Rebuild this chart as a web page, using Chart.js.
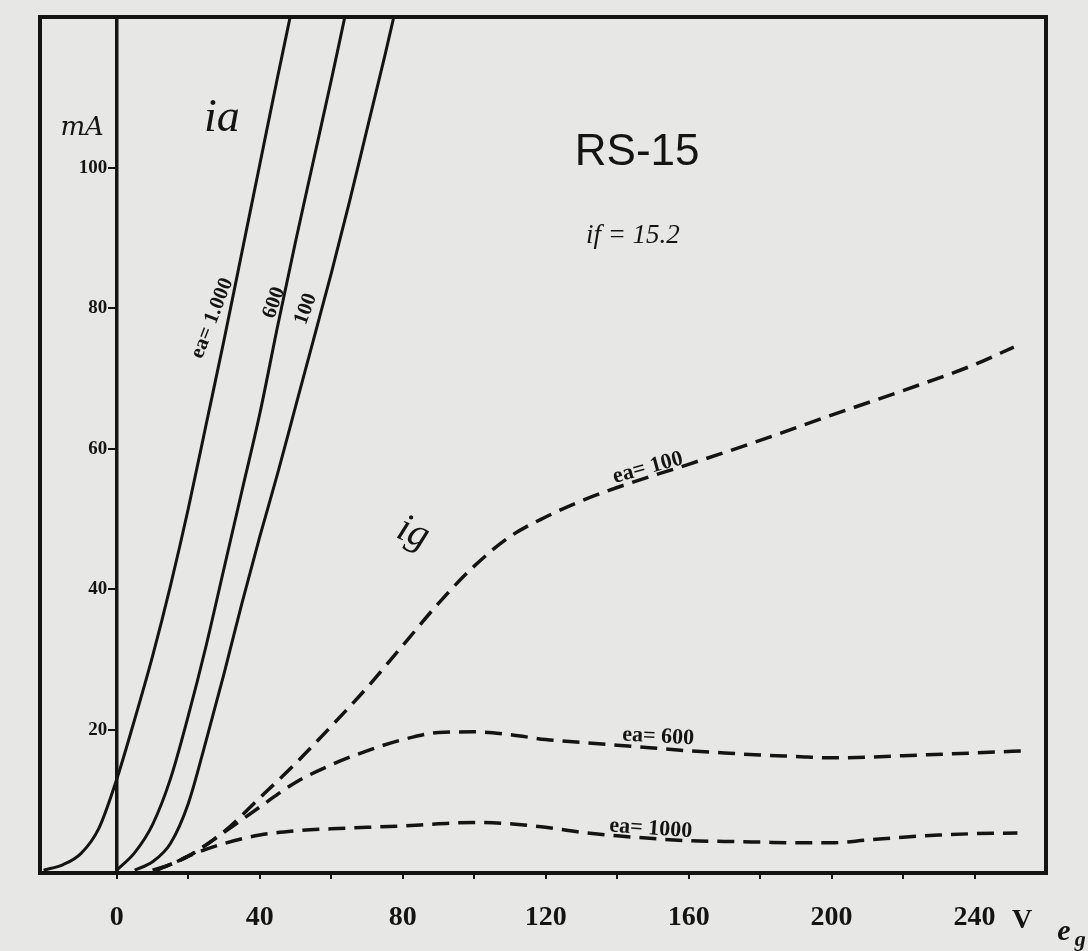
<!DOCTYPE html>
<html><head><meta charset="utf-8">
<script src="https://cdn.jsdelivr.net/npm/chart.js@4/dist/chart.umd.min.js"></script>
<style>
html,body{margin:0;padding:0;background:#e7e7e5;}
#wrap{width:1088px;height:951px;position:relative;overflow:hidden;}
canvas{display:block;}
</style></head><body><div id="wrap"><canvas id="c" width="1088" height="951"></canvas></div>
<script>
// ---- data (grid voltage eg in V, current in mA) ----
const iaEa1000Eg = [-20.5,-15,-10,-5,0,5,10,15,20,25,30,35,40,45,48.5];
const iaEa1000mA = [0,0.8,2.4,6,13,21.5,30.5,40.5,51.5,63.5,75.5,88,100.5,113,121.5];
const iaEa600Eg  = [0,5,10,15,20,25,30,35,40,45,50,55,60,63.8];
const iaEa600mA  = [0,2.5,6.5,13,22,32,43,54,65,77.5,89.5,101,112.5,121.5];
const iaEa100Eg  = [5,10,15,20,25,30,35,40,45,50,55,60,65,70,75,77.5];
const iaEa100mA  = [0,1.2,3.8,9.5,18.5,28,38,47.5,56.5,66,75.5,85,95,105.5,116,121.5];

const igEa100Eg  = [11,20,30,40,50,60,70,80,90,100,110,120,130,140,160,180,200,220,240,251];
const igEa100mA  = [0,2,5.5,10.3,15.2,20.5,26,32,38,43.3,47.5,50.3,52.6,54.5,57.8,61.2,64.8,68.3,72,74.5];
const igEa600Eg  = [11,20,30,40,50,60,70,80,90,100,110,120,130,140,150,160,170,180,190,200,210,220,240,254];
const igEa600mA  = [0,2,5.4,9,12.5,15,17,18.6,19.6,19.7,19.3,18.6,18.2,17.8,17.4,17,16.7,16.4,16.2,16,16.1,16.3,16.7,17];
const igEa1000Eg = [10,15,20,30,40,50,60,70,80,90,100,110,120,130,140,150,160,170,180,190,200,210,220,230,240,252];
const igEa1000mA = [0,0.8,2,3.8,5,5.6,5.9,6.1,6.3,6.6,6.8,6.6,6.1,5.4,4.9,4.5,4.2,4.1,4,3.9,3.9,4.3,4.7,5,5.2,5.3];

const xTicks = [0,20,40,60,80,100,120,140,160,180,200,220,240];
const xLabelEvery = 40;
const yTicks = [20,40,60,80,100];

const pts = (xs, ys) => xs.map((x, i) => ({x: x, y: ys[i]}));

const INK = '#141414';
const solid = (xs, ys) => ({data: pts(xs, ys), borderColor: INK, borderWidth: 3, pointRadius: 0, fill: false, cubicInterpolationMode: 'monotone'});
const dashed = (xs, ys) => ({data: pts(xs, ys), borderColor: INK, borderWidth: 3.5, borderDash: [17, 9], pointRadius: 0, fill: false, cubicInterpolationMode: 'monotone'});

// annotations: text placed in data coordinates
const notes = [
  {t: 'mA', x: -9.7, y: 105.7, font: 'italic 26px "DejaVu Serif"', rot: 0},
  {t: 'ia', x: 29.4, y: 105.3, font: 'italic 46px "Liberation Serif"', rot: 0, base: 'alphabetic'},
  {t: 'RS-15', x: 145.6, y: 100.4, font: '44px "Liberation Sans"', rot: 0, base: 'alphabetic'},
  {t: 'if = 15.2', x: 144.4, y: 89.3, font: 'italic 27px "Liberation Serif"', rot: 0, base: 'alphabetic'},
  {t: 'ig', x: 82.9, y: 48.0, font: 'italic 40px "Liberation Serif"', rot: 22},
  {t: 'ea= 1.000', x: 26.7, y: 78.6, font: 'bold 21px "Liberation Serif"', rot: -68.5},
  {t: '600', x: 44.0, y: 80.8, font: 'bold 21px "Liberation Serif"', rot: -71},
  {t: '100', x: 52.9, y: 79.9, font: 'bold 21px "Liberation Serif"', rot: -70},
  {t: 'ea= 100', x: 148.6, y: 57.3, font: 'bold 22px "Liberation Serif"', rot: -15.5},
  {t: 'ea= 600', x: 151.5, y: 19.0, font: 'bold 22px "Liberation Serif"', rot: 3},
  {t: 'ea= 1000', x: 149.4, y: 5.9, font: 'bold 22px "Liberation Serif"', rot: 4},
  {t: 'V', x: 253.3, y: -7.2, font: 'bold 28px "Liberation Serif"', rot: 0},
  {t: 'e', x: 265.0, y: -8.9, font: 'bold italic 30px "Liberation Serif"', rot: 0},
  {t: 'g', x: 269.6, y: -10.0, font: 'bold italic 22px "Liberation Serif"', rot: 0}
];

const paper = {
  id: 'paper',
  beforeDraw(chart) {
    const c = chart.ctx;
    c.save(); c.fillStyle = '#e7e7e5'; c.fillRect(0, 0, chart.width, chart.height); c.restore();
  },
  afterDraw(chart) {
    const c = chart.ctx, a = chart.chartArea;
    c.save();
    c.strokeStyle = INK; c.lineWidth = 4;
    c.strokeRect(a.left, a.top, a.right - a.left, a.bottom - a.top);
    const sx = chart.scales.x, sy = chart.scales.y;
    c.fillStyle = INK;
    notes.forEach(n => {
      c.save();
      c.translate(sx.getPixelForValue(n.x), sy.getPixelForValue(n.y));
      c.rotate(n.rot * Math.PI / 180);
      c.font = n.font;
      c.textAlign = 'center';
      c.textBaseline = n.base || 'middle';
      c.fillText(n.t, 0, 0);
      c.restore();
    });
    c.restore();
  }
};

new Chart(document.getElementById('c'), {
  type: 'line',
  data: {
    datasets: [
      solid(iaEa1000Eg, iaEa1000mA),
      solid(iaEa600Eg, iaEa600mA),
      solid(iaEa100Eg, iaEa100mA),
      dashed(igEa100Eg, igEa100mA),
      dashed(igEa600Eg, igEa600mA),
      dashed(igEa1000Eg, igEa1000mA)
    ]
  },
  options: {
    responsive: false,
    animation: false,
    devicePixelRatio: 1,
    layout: {padding: {left: 40, right: 42, top: 17, bottom: 0}},
    plugins: {legend: {display: false}, tooltip: {enabled: false}},
    scales: {
      x: {
        type: 'linear', min: -21.5, max: 260, position: 'bottom',
        afterBuildTicks: s => { s.ticks = xTicks.map(v => ({value: v})); },
        afterFit: s => { s.height = 78; },
        ticks: {
          callback: v => (v % xLabelEvery === 0 ? String(v) : ''),
          font: {family: 'Liberation Serif', size: 28, weight: 'bold'},
          color: INK, padding: 22, maxRotation: 0, autoSkip: false
        },
        grid: {drawOnChartArea: false, tickLength: 6, lineWidth: 2, color: INK},
        border: {display: true, color: INK, width: 4}
      },
      y: {
        type: 'linear', min: -0.4, max: 121.5, position: {x: 0},
        afterBuildTicks: s => { s.ticks = yTicks.map(v => ({value: v})); },
        ticks: {
          callback: v => String(v) + '\u2002',
          font: {family: 'Liberation Serif', size: 19, weight: 'bold'},
          color: INK, padding: 0
        },
        grid: {drawOnChartArea: false, tickLength: 7, lineWidth: 2, color: INK},
        border: {display: true, color: INK, width: 3.5}
      }
    }
  },
  plugins: [paper]
});
</script></body></html>
